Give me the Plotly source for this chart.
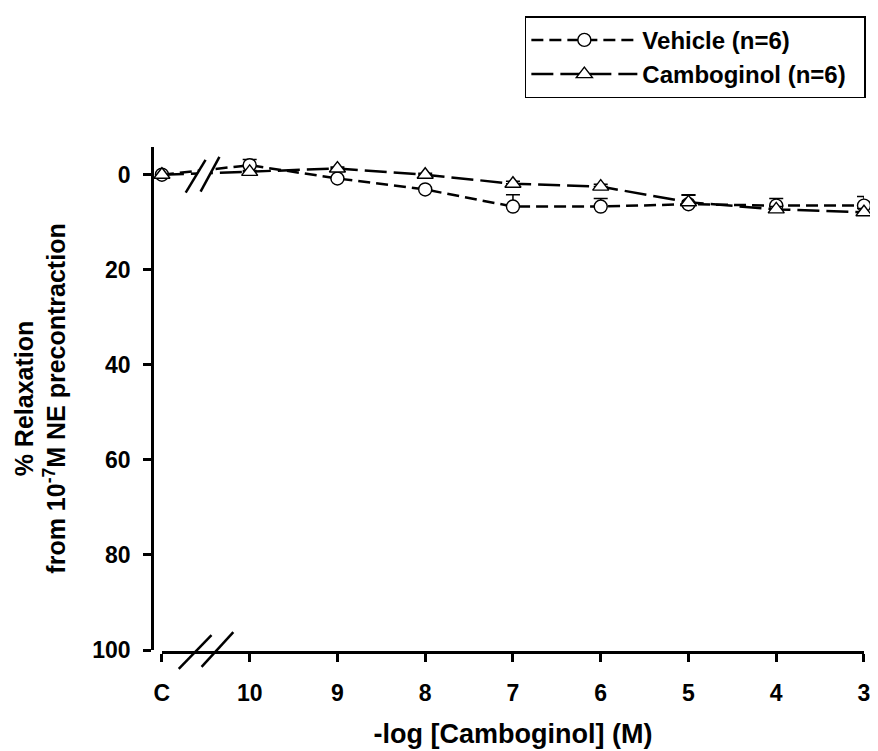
import plotly.graph_objects as go

x_vals = [11, 10, 9, 8, 7, 6, 5, 4, 3]
x_tick_text = ["C", "10", "9", "8", "7", "6", "5", "4", "3"]

vehicle = [0.0, -2.0, 0.8, 3.1, 6.7, 6.7, 6.2, 6.5, 6.5]
vehicle_err = [0.0, 1.2, 0.0, 0.0, 2.5, 1.7, 2.0, 1.5, 1.9]

cambo = [0.0, -0.6, -1.3, 0.0, 1.9, 2.5, 5.8, 7.3, 7.9]
cambo_err = [0.0, 0.3, 0.3, 0.3, 0.5, 0.5, 1.5, 0.6, 0.8]

y_ticks = [0, 20, 40, 60, 80, 100]

FONT = "Liberation Sans, Arial, sans-serif"
OFF = 8  # page body margin

# screen-pixel geometry of plot area
L, R, T, B = 152, 870, 145, 655
W, H = R - L, B - T

fig = go.Figure()
fig.add_trace(go.Scatter(
    x=x_vals, y=vehicle, name="<b>Vehicle (n=6)</b>", mode="lines+markers",
    line=dict(color="black", width=2.5, dash="12px,6px"),
    marker=dict(symbol="circle", size=13, color="white", line=dict(color="black", width=1.4)),
    error_y=dict(type="data", symmetric=False, array=[0] * len(vehicle), arrayminus=vehicle_err,
                 color="black", thickness=1.5, width=7),
    cliponaxis=False,
))
fig.add_trace(go.Scatter(
    x=x_vals, y=cambo, name="<b>Camboginol (n=6)</b>&nbsp;&nbsp;", mode="lines+markers",
    line=dict(color="black", width=2.5, dash="22px,7px"),
    marker=dict(symbol="triangle-up", size=14, color="white", line=dict(color="black", width=1.4)),
    error_y=dict(type="data", symmetric=False, array=[0] * len(cambo), arrayminus=cambo_err,
                 color="black", thickness=1.5, width=7),
    cliponaxis=False,
))


def px(xp):
    return (xp - L) / W


def py(yp):
    return (B - yp) / H


shapes = []
for (x0, y0, x1, y1) in [(179, 672, 212, 638), (202, 670, 234, 635)]:
    shapes.append(dict(type="line", xref="paper", yref="paper", x0=px(x0), y0=py(y0), x1=px(x1), y1=py(y1),
                       line=dict(color="black", width=2.5)))
shapes.append(dict(type="path", xref="paper", yref="paper",
                   path=f"M {px(188)},{py(190)} L {px(207)},{py(157)} L {px(219)},{py(157)} L {px(201)},{py(190)} Z",
                   fillcolor="white", line=dict(width=0), layer="above"))
for (x0, y0, x1, y1) in [(186, 191, 206, 158), (201, 190, 220, 155)]:
    shapes.append(dict(type="line", xref="paper", yref="paper", x0=px(x0), y0=py(y0), x1=px(x1), y1=py(y1),
                       line=dict(color="black", width=2.5), layer="above"))

fig.update_layout(
    width=878 - OFF, height=751 - OFF,
    margin=dict(l=L - OFF, r=(878 - OFF) - (R - OFF), t=T - OFF, b=(751 - OFF) - (B - OFF)),
    paper_bgcolor="white", plot_bgcolor="white",
    font=dict(family=FONT, size=23, color="black"),
    showlegend=True,
    legend=dict(x=px(528), y=py(13), xanchor="left", yanchor="top",
                bordercolor="black", borderwidth=1.5, bgcolor="white",
                font=dict(family=FONT, size=24, color="black"),
                itemwidth=106, tracegroupgap=4),
    xaxis=dict(domain=[(162 - L) / W, 1], range=[11, 3], anchor="free", position=0,
               tickvals=x_vals, ticktext=[f"<b>{t}</b>" for t in x_tick_text],
               tickfont=dict(size=23),
               showline=True, linecolor="black", linewidth=2.5,
               ticks="outside", ticklen=8, tickwidth=2.5, tickcolor="black",
               ticklabelstandoff=12,
               showgrid=False, zeroline=False,
               title=dict(text="<b>-log [Camboginol] (M)</b>", font=dict(size=27), standoff=18)),
    yaxis=dict(domain=[(B - 653) / H, 1], range=[100, -5.83], anchor="free", position=0,
               tickvals=y_ticks, ticktext=[f"<b>{t}</b>" for t in y_ticks],
               tickfont=dict(size=23),
               showline=True, linecolor="black", linewidth=2.5,
               ticks="outside", ticklen=8, tickwidth=2.5, tickcolor="black",
               ticklabelstandoff=8,
               showgrid=False, zeroline=False,
               title=dict(text="<b>% Relaxation<br>from 10<sup>-7</sup>M NE precontraction</b>",
                          font=dict(size=25), standoff=18)),
    shapes=shapes,
)

fig.write_html("out.html")
